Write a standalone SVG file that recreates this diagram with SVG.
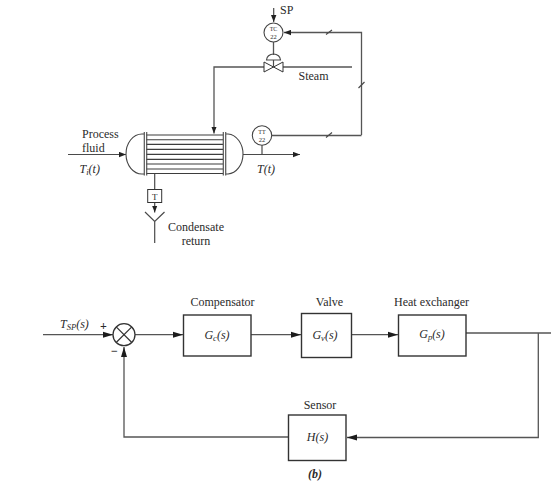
<svg xmlns="http://www.w3.org/2000/svg" width="551" height="481" viewBox="0 0 551 481">
<style>
text{font-family:"Liberation Serif","Times New Roman",serif;font-size:12px;fill:#2b2b2b}
.i{font-style:italic}
.m{text-anchor:middle}
.l{fill:none;stroke:#4a4a4a;stroke-width:1.2}
.k{fill:none;stroke:#555;stroke-width:1.3}
.b{fill:#fff;stroke:#333;stroke-width:1.4}
.t{stroke:#444;stroke-width:1.1;fill:none}
.u{font-size:8.5px}
</style>
<defs>
<marker id="a" markerUnits="userSpaceOnUse" markerWidth="7" markerHeight="6" refX="7" refY="3" orient="auto"><path d="M0,0.3L7,3L0,5.7z" fill="#222"/></marker>
<marker id="B" markerUnits="userSpaceOnUse" markerWidth="11" markerHeight="7" refX="10" refY="3.5" orient="auto"><path d="M0,0.5L10,3.5L0,6.5z" fill="#1c1c1c"/></marker>
</defs>
<g id="connectors">
<path class="l" d="M273.700 8V22" marker-end="url(#a)"/>
<path class="k" d="M361.500 135V32.500H284" marker-end="url(#a)"/>
<path class="k" d="M272 135.500H361.500"/>
<path class="l" d="M326 137.500L332 132.500M326 34.500L332 30M358.500 88L364.500 82"/>
<path class="k" d="M273.500 42V55"/>
<path class="k" d="M264 67H214V133.500" marker-end="url(#a)"/>
<path class="k" d="M283 67H352"/>
<path class="l" d="M68 154.500H126" marker-end="url(#a)"/>
<path class="l" d="M243 154.500H300" marker-end="url(#a)"/>
<path class="l" d="M262 145V154.500"/>
<path class="l" d="M154.700 174V189"/>
<path class="l" d="M154.700 202V212.500" marker-end="url(#a)"/>
<path class="l" d="M145 212L154.700 221.500L164.500 212M154.700 221.500V243"/>
<path class="k" d="M43 334.700H113" marker-end="url(#B)"/>
<path class="k" d="M135 334.700H183" marker-end="url(#B)"/>
<path class="k" d="M251 334.700H301" marker-end="url(#B)"/>
<path class="k" d="M352 334.700H398" marker-end="url(#B)"/>
<path class="k" d="M466 333H551"/>
<path class="k" d="M538.300 333V437.500H347" marker-end="url(#B)"/>
<path class="k" d="M288 437H124V347" marker-end="url(#B)"/>
</g>
<g id="tc22"><circle cx="273.500" cy="32.500" r="9.500" fill="#fff" stroke="#444" stroke-width="1.100"/><text x="273.500" y="31" class="m" style="font-size:6px">TC</text><text x="273.500" y="38.500" class="m" style="font-size:6.500px">22</text></g>
<g id="valve"><path class="l" d="M266.500 60A7 6 0 0 1 280.500 60Z"/><path d="M264 62L283 72V62L264 72Z" fill="#fff" stroke="#333" stroke-width="1"/><path class="l" d="M273.500 60V67"/></g>
<g id="exchanger">
<path class="t" d="M144 134H142A16 20 0 0 0 126 154.500A16 20 0 0 0 142 174H144M226 134H228A16 20 0 0 1 243 154.500A16 20 0 0 1 228 174H226"/>
<path d="M146 135H223M146 139.700H223M146 144.300H223M146 149.300H223M146 154.300H223M146 159.300H223M146 164H223M146 169H223M146 173.500H223" stroke="#3d3d3d" stroke-width="1.150" fill="none"/>
<path d="M144.300 132V175.500M146.700 132V175.500M223.300 132V175.500M225.700 132V175.500" stroke="#555" stroke-width="1.200" fill="none"/>
</g>
<g id="tt22"><circle cx="262" cy="135.500" r="9.700" fill="#fff" stroke="#444" stroke-width="1.100"/><text x="262" y="134" class="m" style="font-size:6px">TT</text><text x="262" y="141.500" class="m" style="font-size:6.500px">22</text></g>
<g id="trap"><rect x="147.700" y="189.500" width="14" height="13" fill="#fff" stroke="#333" stroke-width="1"/><text x="154.700" y="199.500" class="m" style="font-size:9px">T</text></g>
<g id="labels">
<text x="280" y="14" style="font-size:12px">SP</text>
<text x="313.500" y="80" class="m">Steam</text>
<text x="82" y="138">Process</text>
<text x="82" y="152">fluid</text>
<text x="79.500" y="172.500" class="i">T<tspan class="u" dy="2">i</tspan><tspan dy="-2">(t)</tspan></text>
<text x="257" y="172.500" class="i">T(t)</text>
<text x="168" y="231">Condensate</text>
<text x="196" y="245" class="m">return</text>
</g>
<g id="sum"><circle cx="124" cy="334.700" r="11" fill="#fff" stroke="#333" stroke-width="1.300"/><path d="M116.200 326.900L131.800 342.500M131.800 326.900L116.200 342.500" stroke="#333" stroke-width="1.200"/><text x="103.500" y="329.500" class="m" style="font-weight:bold">+</text><text x="114.500" y="355" class="m" style="font-weight:bold">−</text></g>
<g id="gc"><rect class="b" x="183.500" y="315" width="67.500" height="41"/><text x="217" y="339" class="m i">G<tspan class="u" dy="2">c</tspan><tspan dy="-2">(s)</tspan></text><text x="222.500" y="306" class="m">Compensator</text></g>
<g id="gv"><rect class="b" x="301.500" y="313.500" width="50" height="44"/><text x="325" y="339" class="m i">G<tspan class="u" dy="2">v</tspan><tspan dy="-2">(s)</tspan></text><text x="329.500" y="306" class="m">Valve</text></g>
<g id="gp"><rect class="b" x="398.500" y="315" width="67.500" height="41"/><text x="432" y="338" class="m i">G<tspan class="u" dy="2">p</tspan><tspan dy="-2">(s)</tspan></text><text x="431.500" y="306" class="m">Heat exchanger</text></g>
<g id="h"><rect class="b" x="288.500" y="415" width="57.500" height="45.500"/><text x="317.500" y="441" class="m i">H(s)</text><text x="320" y="409" class="m">Sensor</text></g>
<g id="labels2">
<text x="60" y="328" class="i">T<tspan class="u" dy="2">SP</tspan><tspan dy="-2">(s)</tspan></text>
<text x="315" y="478" class="m i" style="font-weight:bold">(b)</text>
</g>
</svg>
